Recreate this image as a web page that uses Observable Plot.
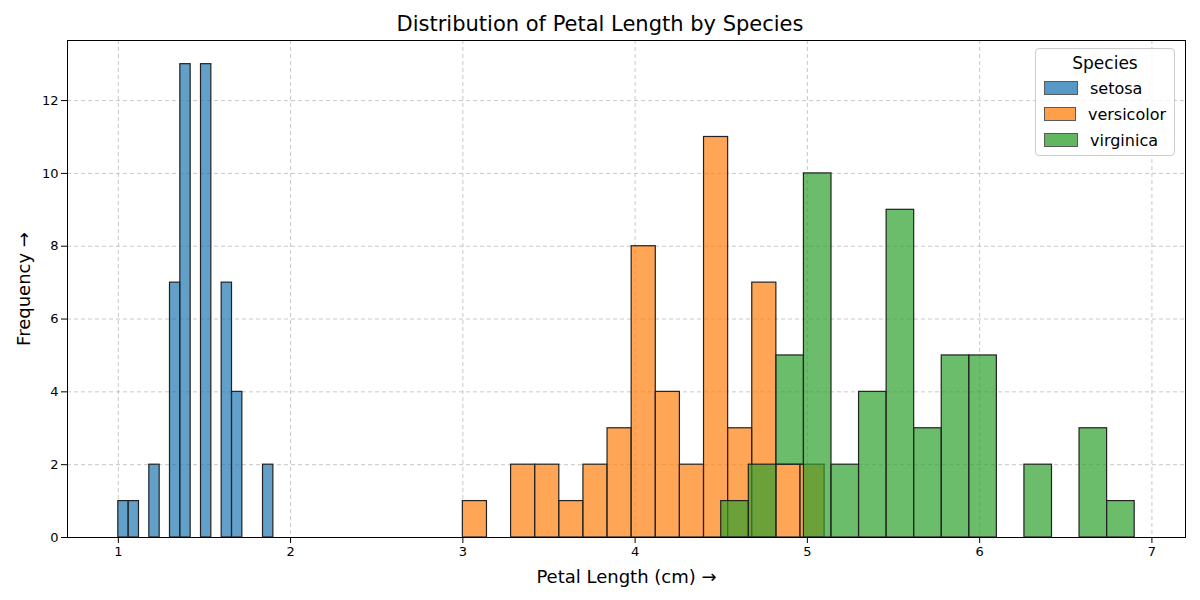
<!DOCTYPE html>
<html>
<head>
<meta charset="utf-8">
<script src="https://cdn.jsdelivr.net/npm/d3@7"></script>
<script src="https://cdn.jsdelivr.net/npm/@observablehq/plot@0.6"></script>
<style>
  body { margin: 0; font-family: "DejaVu Sans", sans-serif; background: #fff; }
  #wrap { position: relative; width: 1200px; height: 600px; }
  h2 { margin: 0; height: 38px; line-height: 48px; text-align: center; font-weight: normal; font-size: 21px; }
  #legend { position: absolute; left: 1035px; top: 48px; width: 140px; height: 108px; border: 1px solid #ccc;
    border-radius: 4px; background: rgba(255,255,255,0.8); box-sizing: border-box; padding: 4px 8px; font-size: 16px; }
  #legend .t { text-align: center; font-size: 17px; margin-bottom: 2px; }
  #legend .r { display: flex; align-items: center; height: 26px; }
  #legend .s { width: 32px; height: 12px; border: 1px solid #222; margin-right: 12px; }
</style>
</head>
<body>
<div id="wrap">
<h2>Distribution of Petal Length by Species</h2>
<div id="chart"></div>
<div id="legend"></div>
</div>
<script>
// histogram counts, 15 equal bins per species between its min and max
const species = ["setosa", "versicolor", "virginica"];
const colors = ["#1f77b4", "#ff7f0e", "#2ca02c"];
const binMin = [1.0, 3.0, 4.5];
const binMax = [1.9, 5.1, 6.9];
const setosaCounts = [1, 1, 0, 2, 0, 7, 13, 0, 13, 0, 7, 4, 0, 0, 2];
const versicolorCounts = [1, 0, 2, 2, 1, 2, 3, 8, 4, 2, 11, 3, 7, 2, 2];
const virginicaCounts = [1, 2, 3, 10, 2, 4, 9, 3, 5, 5, 0, 2, 0, 3, 1];
const counts = [setosaCounts, versicolorCounts, virginicaCounts];
const xTicks = [1, 2, 3, 4, 5, 6, 7];
const yTicks = [0, 2, 4, 6, 8, 10, 12];

const bins = [];
species.forEach((s, i) => {
  const w = (binMax[i] - binMin[i]) / 15;
  counts[i].forEach((c, k) => {
    bins.push({ species: s, x1: binMin[i] + k * w, x2: binMin[i] + (k + 1) * w, y: c });
  });
});

const plt = Plot.plot({
  width: 1200,
  height: 562,
  marginTop: 2,
  marginBottom: 63,
  marginLeft: 67,
  marginRight: 15,
  style: { fontFamily: "DejaVu Sans, sans-serif", fontSize: "13px" },
  x: { domain: [0.705, 7.195], ticks: xTicks, tickFormat: d3.format("d"), label: "Petal Length (cm)", labelAnchor: "center", labelOffset: 45 },
  y: { domain: [0, 13.65], ticks: yTicks, label: "Frequency", labelAnchor: "center", labelOffset: 50 },
  color: { domain: species, range: colors },
  marks: [
    Plot.gridX(xTicks, { stroke: "#b0b0b0", strokeOpacity: 0.7, strokeDasharray: "4,3" }),
    Plot.gridY(yTicks, { stroke: "#b0b0b0", strokeOpacity: 0.7, strokeDasharray: "4,3" }),
    Plot.rectY(bins, { x1: "x1", x2: "x2", y: "y", fill: "species", fillOpacity: 0.7, stroke: "#222", strokeWidth: 1.2 }),
    Plot.frame({ stroke: "#000" })
  ]
});
d3.select(plt).selectAll("[aria-label='x-axis label'] text, [aria-label='y-axis label'] text").style("font-size", "18px");
document.querySelector("#chart").append(plt);

const lg = document.querySelector("#legend");
lg.innerHTML = `<div class="t">Species</div>` + species.map((s, i) =>
  `<div class="r"><div class="s" style="background:${colors[i]};opacity:0.75"></div>${s}</div>`).join("");
</script>
</body>
</html>
